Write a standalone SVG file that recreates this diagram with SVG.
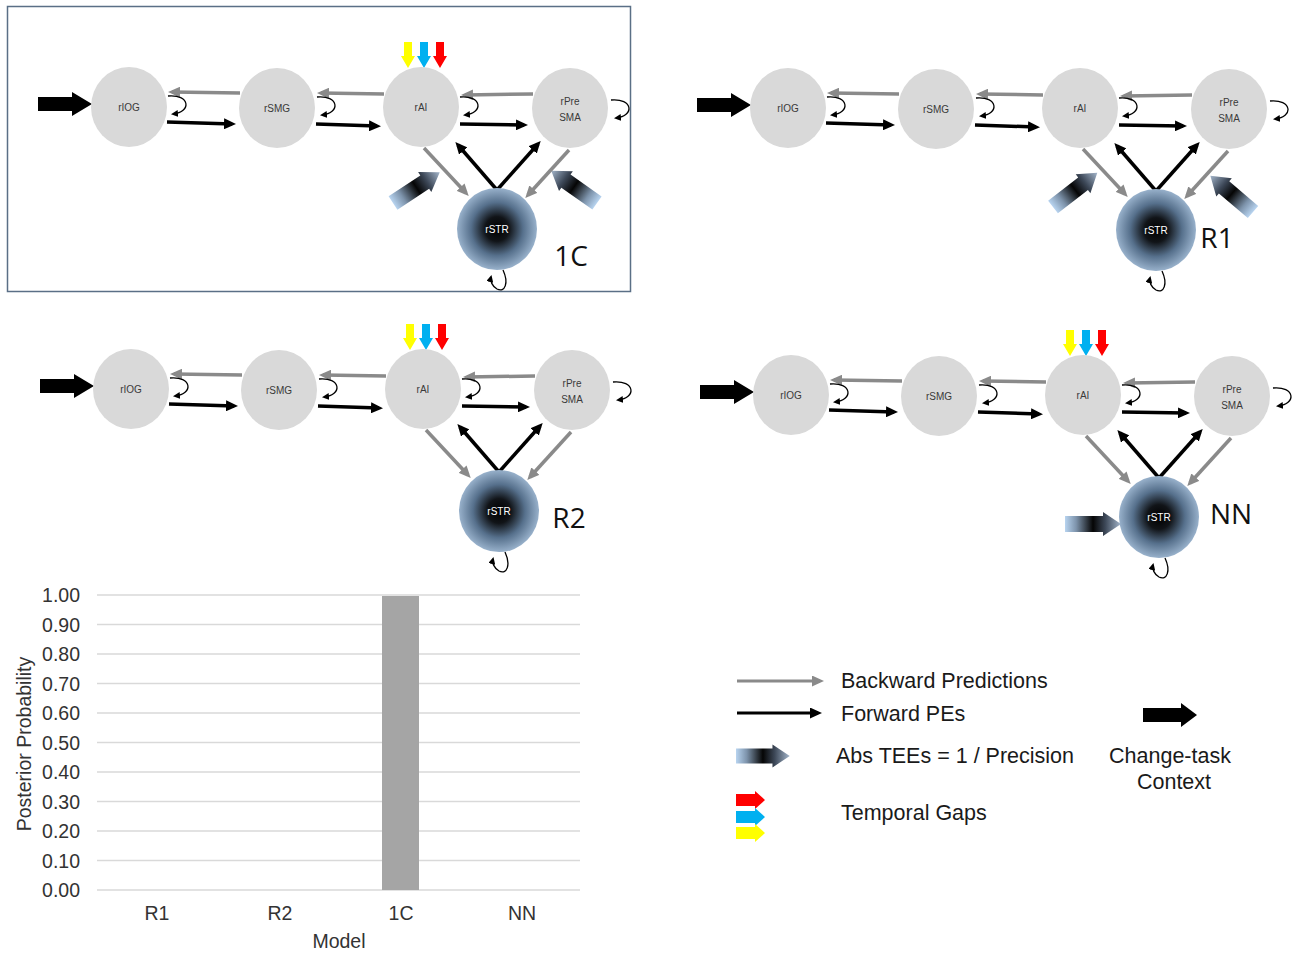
<svg xmlns="http://www.w3.org/2000/svg" width="1300" height="959" viewBox="0 0 1300 959">
<style>
.nd{fill:#d9d9d9}
.nl{font-family:"Liberation Sans",Arial,sans-serif;font-size:10px;fill:#3a3a3a;text-anchor:middle}
.sl{font-family:"Liberation Sans",Arial,sans-serif;font-size:10px;fill:#ffffff;text-anchor:middle}
.bk{stroke:#8a8a8a;stroke-width:3.5;fill:none;marker-end:url(#mGray)}
.fw{stroke:#000;stroke-width:3.5;fill:none;marker-end:url(#mBlack)}
.lp{stroke:#000;stroke-width:1.3;fill:none;marker-end:url(#mSmall)}
.pl{font-family:"Open Sans","Liberation Sans",sans-serif;font-size:28px;fill:#111;text-anchor:middle}
.ax{font-family:"Liberation Sans",Arial,sans-serif;font-size:19.5px;fill:#333}
.lg{font-family:"Liberation Sans",Arial,sans-serif;font-size:21.5px;fill:#1a1a1a}
.gr{stroke:#d9d9d9;stroke-width:1.5}
</style>
<defs>
<radialGradient id="strGrad" cx="0.5" cy="0.5" r="0.5">
<stop offset="0" stop-color="#000"/>
<stop offset="0.3" stop-color="#111418"/>
<stop offset="0.65" stop-color="#56708c"/>
<stop offset="1" stop-color="#98b1cb"/>
</radialGradient>
<linearGradient id="teeGrad" x1="0" y1="0" x2="1" y2="0">
<stop offset="0" stop-color="#b8d4f0"/>
<stop offset="0.2" stop-color="#7d93ab"/>
<stop offset="0.5" stop-color="#050505"/>
<stop offset="0.72" stop-color="#3d4858"/>
<stop offset="1" stop-color="#a4b6cb"/>
</linearGradient>
<marker id="mGray" markerUnits="userSpaceOnUse" markerWidth="12" markerHeight="11" refX="8" refY="5.5" orient="auto"><path d="M0,0 L12,5.5 L0,11 z" fill="#8a8a8a"/></marker>
<marker id="mBlack" markerUnits="userSpaceOnUse" markerWidth="12" markerHeight="11" refX="8" refY="5.5" orient="auto"><path d="M0,0 L12,5.5 L0,11 z" fill="#000"/></marker>
<marker id="mSmall" markerUnits="userSpaceOnUse" markerWidth="7" markerHeight="7" refX="5" refY="3.5" orient="auto"><path d="M0,0 L7,3.5 L0,7 z" fill="#000"/></marker>
<polygon id="tee" points="0,-8 38,-8 38,-12 56,0 38,12 38,8 0,8" fill="url(#teeGrad)"/>
<polygon id="inArrow" points="38,97 72,97 72,92 92,104 72,116 72,111 38,111" fill="#000"/>
<g id="gaps">
<polygon points="404,42 412,42 412,56 415,56 408,68 401,56 404,56" fill="#ffff00"/>
<polygon points="420,42 428,42 428,56 431,56 424,68 417,56 420,56" fill="#00b0f0"/>
<polygon points="436,42 444,42 444,56 447,56 440,68 433,56 436,56" fill="#ff0000"/>
</g>
</defs>

<rect x="7.5" y="6.5" width="623" height="285" fill="none" stroke="#5a6f86" stroke-width="1.5"/>

<!-- Panel 1C -->
<g id="panel-1C">
<use href="#inArrow"/>
<use href="#gaps"/>
<g transform="translate(393,203) rotate(-33.4)"><use href="#tee"/></g>
<g transform="translate(597,203) rotate(-144.8)"><use href="#tee"/></g>
<g id="c-1C">
<path class="bk" d="M240,93 L172,92"/><path class="bk" d="M384,94 L321,93"/><path class="bk" d="M533,94 L465,95"/>
<path class="bk" d="M424,148 L466,193"/><path class="bk" d="M569,150 L528,195"/>
<path class="fw" d="M167,122 L232,124"/><path class="fw" d="M316,124 L377,126"/><path class="fw" d="M460,124 L524,125"/>
<path class="fw" d="M497,190 L458,145"/><path class="fw" d="M497,190 L538,144"/>
<path class="lp" d="M168,96 C190,94 192,112 173,114"/><path class="lp" d="M317,97 C339,95 341,113 322,115"/>
<path class="lp" d="M460,97 C482,95 484,113 465,115"/><path class="lp" d="M611,100 C633,98 635,116 616,118"/>
<path class="lp" d="M503,270 C509,283 505,293 497,289 C492,286 490,281 491,277"/>
</g>
<g id="n-1C-rIOG"><ellipse class="nd" cx="129" cy="107" rx="38" ry="40"/><text class="nl" x="129" y="111">rIOG</text></g>
<g id="n-1C-rSMG"><ellipse class="nd" cx="277" cy="108" rx="38" ry="40"/><text class="nl" x="277" y="112">rSMG</text></g>
<g id="n-1C-rAI"><ellipse class="nd" cx="421" cy="107" rx="38" ry="40"/><text class="nl" x="421" y="111">rAI</text></g>
<g id="n-1C-rPreSMA"><ellipse class="nd" cx="570" cy="108" rx="38" ry="40"/><text class="nl" x="570" y="105">rPre</text><text class="nl" x="570" y="121">SMA</text></g>
<g id="n-1C-rSTR"><ellipse cx="497" cy="229" rx="40" ry="41" fill="url(#strGrad)"/><text class="sl" x="497" y="233">rSTR</text></g>
<text class="pl" x="571" y="266">1C</text>
</g>

<!-- Panel R1 -->
<g id="panel-R1" transform="translate(659,1)">
<use href="#inArrow"/>
<g transform="translate(394,206) rotate(-37.7)"><use href="#tee"/></g>
<g transform="translate(594,211) rotate(-139.6)"><use href="#tee"/></g>
<g id="c-R1">
<path class="bk" d="M240,93 L172,92"/><path class="bk" d="M384,94 L321,93"/><path class="bk" d="M533,94 L465,95"/>
<path class="bk" d="M424,148 L466,193"/><path class="bk" d="M569,150 L528,195"/>
<path class="fw" d="M167,122 L232,124"/><path class="fw" d="M316,124 L377,126"/><path class="fw" d="M460,124 L524,125"/>
<path class="fw" d="M497,190 L458,145"/><path class="fw" d="M497,190 L538,144"/>
<path class="lp" d="M168,96 C190,94 192,112 173,114"/><path class="lp" d="M317,97 C339,95 341,113 322,115"/>
<path class="lp" d="M460,97 C482,95 484,113 465,115"/><path class="lp" d="M611,100 C633,98 635,116 616,118"/>
<path class="lp" d="M503,270 C509,283 505,293 497,289 C492,286 490,281 491,277"/>
</g>
<g id="n-R1-rIOG"><ellipse class="nd" cx="129" cy="107" rx="38" ry="40"/><text class="nl" x="129" y="111">rIOG</text></g>
<g id="n-R1-rSMG"><ellipse class="nd" cx="277" cy="108" rx="38" ry="40"/><text class="nl" x="277" y="112">rSMG</text></g>
<g id="n-R1-rAI"><ellipse class="nd" cx="421" cy="107" rx="38" ry="40"/><text class="nl" x="421" y="111">rAI</text></g>
<g id="n-R1-rPreSMA"><ellipse class="nd" cx="570" cy="108" rx="38" ry="40"/><text class="nl" x="570" y="105">rPre</text><text class="nl" x="570" y="121">SMA</text></g>
<g id="n-R1-rSTR"><ellipse cx="497" cy="229" rx="40" ry="41" fill="url(#strGrad)"/><text class="sl" x="497" y="233">rSTR</text></g>
<text class="pl" x="558" y="247">R1</text>
</g>

<!-- Panel R2 -->
<g id="panel-R2" transform="translate(2,282)">
<use href="#inArrow"/>
<use href="#gaps"/>
<g id="c-R2">
<path class="bk" d="M240,93 L172,92"/><path class="bk" d="M384,94 L321,93"/><path class="bk" d="M533,94 L465,95"/>
<path class="bk" d="M424,148 L466,193"/><path class="bk" d="M569,150 L528,195"/>
<path class="fw" d="M167,122 L232,124"/><path class="fw" d="M316,124 L377,126"/><path class="fw" d="M460,124 L524,125"/>
<path class="fw" d="M497,190 L458,145"/><path class="fw" d="M497,190 L538,144"/>
<path class="lp" d="M168,96 C190,94 192,112 173,114"/><path class="lp" d="M317,97 C339,95 341,113 322,115"/>
<path class="lp" d="M460,97 C482,95 484,113 465,115"/><path class="lp" d="M611,100 C633,98 635,116 616,118"/>
<path class="lp" d="M503,270 C509,283 505,293 497,289 C492,286 490,281 491,277"/>
</g>
<g id="n-R2-rIOG"><ellipse class="nd" cx="129" cy="107" rx="38" ry="40"/><text class="nl" x="129" y="111">rIOG</text></g>
<g id="n-R2-rSMG"><ellipse class="nd" cx="277" cy="108" rx="38" ry="40"/><text class="nl" x="277" y="112">rSMG</text></g>
<g id="n-R2-rAI"><ellipse class="nd" cx="421" cy="107" rx="38" ry="40"/><text class="nl" x="421" y="111">rAI</text></g>
<g id="n-R2-rPreSMA"><ellipse class="nd" cx="570" cy="108" rx="38" ry="40"/><text class="nl" x="570" y="105">rPre</text><text class="nl" x="570" y="121">SMA</text></g>
<g id="n-R2-rSTR"><ellipse cx="497" cy="229" rx="40" ry="41" fill="url(#strGrad)"/><text class="sl" x="497" y="233">rSTR</text></g>
<text class="pl" x="567" y="246">R2</text>
</g>

<!-- Panel NN -->
<g id="panel-NN" transform="translate(662,288)">
<use href="#inArrow"/>
<use href="#gaps"/>
<g transform="translate(403,236)"><use href="#tee"/></g>
<g id="c-NN">
<path class="bk" d="M240,93 L172,92"/><path class="bk" d="M384,94 L321,93"/><path class="bk" d="M533,94 L465,95"/>
<path class="bk" d="M424,148 L466,193"/><path class="bk" d="M569,150 L528,195"/>
<path class="fw" d="M167,122 L232,124"/><path class="fw" d="M316,124 L377,126"/><path class="fw" d="M460,124 L524,125"/>
<path class="fw" d="M497,190 L458,145"/><path class="fw" d="M497,190 L538,144"/>
<path class="lp" d="M168,96 C190,94 192,112 173,114"/><path class="lp" d="M317,97 C339,95 341,113 322,115"/>
<path class="lp" d="M460,97 C482,95 484,113 465,115"/><path class="lp" d="M611,100 C633,98 635,116 616,118"/>
<path class="lp" d="M503,270 C509,283 505,293 497,289 C492,286 490,281 491,277"/>
</g>
<g id="n-NN-rIOG"><ellipse class="nd" cx="129" cy="107" rx="38" ry="40"/><text class="nl" x="129" y="111">rIOG</text></g>
<g id="n-NN-rSMG"><ellipse class="nd" cx="277" cy="108" rx="38" ry="40"/><text class="nl" x="277" y="112">rSMG</text></g>
<g id="n-NN-rAI"><ellipse class="nd" cx="421" cy="107" rx="38" ry="40"/><text class="nl" x="421" y="111">rAI</text></g>
<g id="n-NN-rPreSMA"><ellipse class="nd" cx="570" cy="108" rx="38" ry="40"/><text class="nl" x="570" y="105">rPre</text><text class="nl" x="570" y="121">SMA</text></g>
<g id="n-NN-rSTR"><ellipse cx="497" cy="229" rx="40" ry="41" fill="url(#strGrad)"/><text class="sl" x="497" y="233">rSTR</text></g>
<text class="pl" x="569" y="236">NN</text>
</g>

<!-- Chart -->
<g id="chart">
<line class="gr" x1="97" y1="890" x2="580" y2="890"/>
<line class="gr" x1="97" y1="860.5" x2="580" y2="860.5"/>
<line class="gr" x1="97" y1="831" x2="580" y2="831"/>
<line class="gr" x1="97" y1="801.5" x2="580" y2="801.5"/>
<line class="gr" x1="97" y1="772" x2="580" y2="772"/>
<line class="gr" x1="97" y1="742.5" x2="580" y2="742.5"/>
<line class="gr" x1="97" y1="713" x2="580" y2="713"/>
<line class="gr" x1="97" y1="683.5" x2="580" y2="683.5"/>
<line class="gr" x1="97" y1="654" x2="580" y2="654"/>
<line class="gr" x1="97" y1="624.5" x2="580" y2="624.5"/>
<line class="gr" x1="97" y1="595" x2="580" y2="595"/>
<rect x="382" y="596" width="37" height="294" fill="#a5a5a5"/>
<g class="ax" text-anchor="end">
<text x="80" y="897">0.00</text>
<text x="80" y="867.5">0.10</text>
<text x="80" y="838">0.20</text>
<text x="80" y="808.5">0.30</text>
<text x="80" y="779">0.40</text>
<text x="80" y="749.5">0.50</text>
<text x="80" y="720">0.60</text>
<text x="80" y="690.5">0.70</text>
<text x="80" y="661">0.80</text>
<text x="80" y="631.5">0.90</text>
<text x="80" y="602">1.00</text>
</g>
<g class="ax" text-anchor="middle">
<text x="157" y="920">R1</text>
<text x="280" y="920">R2</text>
<text x="401" y="920">1C</text>
<text x="522" y="920">NN</text>
<text x="339" y="948">Model</text>
<text transform="translate(31,744) rotate(-90)">Posterior Probability</text>
</g>
</g>

<!-- Legend -->
<g id="legend">
<line x1="737" y1="681" x2="820" y2="681" stroke="#8a8a8a" stroke-width="3" marker-end="url(#mGray)"/>
<text class="lg" x="841" y="688">Backward Predictions</text>
<line x1="737" y1="713" x2="818" y2="713" stroke="#000" stroke-width="3" marker-end="url(#mBlack)"/>
<text class="lg" x="841" y="721">Forward PEs</text>
<g transform="translate(736,756) scale(0.96,0.95)"><use href="#tee"/></g>
<text class="lg" x="836" y="763">Abs TEEs = 1 / Precision</text>
<polygon points="736,794 755,794 755,791 765,800 755,809 755,806 736,806" fill="#ff0000"/>
<polygon points="736,811 755,811 755,808 765,817 755,826 755,823 736,823" fill="#00b0f0"/>
<polygon points="736,827 755,827 755,824 765,833 755,842 755,839 736,839" fill="#ffff00"/>
<text class="lg" x="841" y="820">Temporal Gaps</text>
<polygon points="1143,708 1181,708 1181,703 1197,715 1181,727 1181,722 1143,722" fill="#000"/>
<text class="lg" x="1170" y="763" text-anchor="middle">Change-task</text>
<text class="lg" x="1174" y="789" text-anchor="middle">Context</text>
</g>
</svg>
